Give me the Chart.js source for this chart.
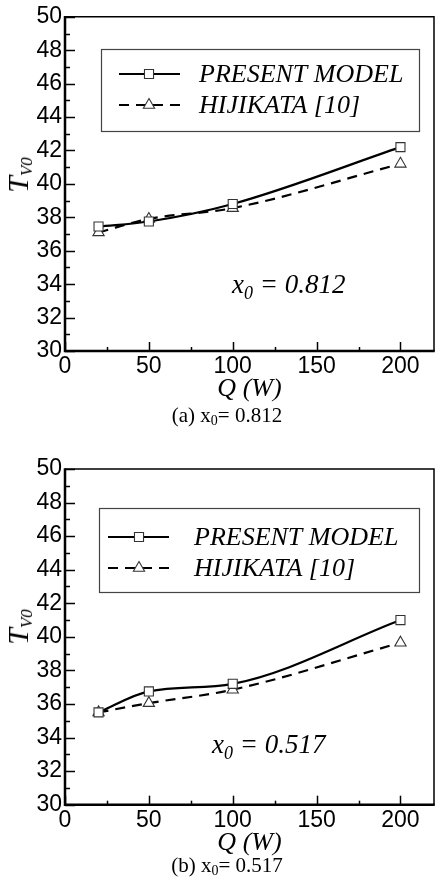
<!DOCTYPE html>
<html>
<head>
<meta charset="utf-8">
<script src="https://cdn.jsdelivr.net/npm/chart.js@4/dist/chart.umd.min.js"></script>
<style>
  html, body { margin: 0; padding: 0; background: #fff; }
  #page { position: relative; width: 446px; height: 880px; background: #fff; overflow: hidden; }
  .panel { position: absolute; left: 0; width: 446px; height: 440px; }
  .panel canvas { position: absolute; left: 0; top: 0; }
  .ytitle { position: absolute; white-space: nowrap; font-family: 'Liberation Serif', 'Times New Roman', serif; font-style: italic; font-size: 30px; color: #000; transform: translate(-50%, -50%) rotate(-90deg); line-height: 1; }
  .ytitle sub { font-size: 17px; vertical-align: -4px; }
  .annot { position: absolute; white-space: nowrap; font-family: 'Liberation Serif', 'Times New Roman', serif; font-style: italic; font-size: 27px; color: #000; line-height: 1; }
  .annot sub { font-size: 18px; vertical-align: -6px; }
  .caption { position: absolute; white-space: nowrap; font-family: 'Liberation Serif', 'Times New Roman', serif; font-size: 21px; color: #000; transform: translateX(-50%); line-height: 1; }
  .caption sub { font-size: 14px; vertical-align: -3px; }
</style>
</head>
<body>
<div id="page">
  <div class="panel" style="top:0px;"><canvas id="c1" width="446" height="440"></canvas></div>
  <div class="panel" style="top:440px;"><canvas id="c2" width="446" height="440"></canvas></div>

  <div class="ytitle" style="left:19px; top:175px;">T<sub>V0</sub></div>
  <div class="annot" style="left:232px; top:271px;">x<sub>0</sub> = 0.812</div>
  <div class="caption" style="left:227px; top:405px;">(a) x<sub>0</sub>= 0.812</div>

  <div class="ytitle" style="left:19px; top:627px;">T<sub>V0</sub></div>
  <div class="annot" style="left:212px; top:731px;">x<sub>0</sub> = 0.517</div>
  <div class="caption" style="left:227px; top:855px;">(b) x<sub>0</sub>= 0.517</div>
</div>
<script>
// ---- data ----
const Q = [20, 50, 100, 200];
const presentA  = [37.45, 37.75, 38.8, 42.2];
const hijikataA = [37.1, 37.9, 38.55, 41.2];
const presentB  = [35.5, 36.75, 37.2, 41.0];
const hijikataB = [35.5, 36.05, 36.85, 39.65];
const seriesLabels = ['PRESENT MODEL', 'HIJIKATA [10]'];
const xTicks = [0, 50, 100, 150, 200];
const yTicks = [30, 32, 34, 36, 38, 40, 42, 44, 46, 48, 50];

const frameTicks = {
  id: 'frameTicks',
  afterDatasetsDraw(chart) {
    const ctx = chart.ctx;
    const a = chart.chartArea;
    const xs = chart.scales.x, ys = chart.scales.y;
    ctx.save();
    ctx.strokeStyle = '#000';
    ctx.lineCap = 'butt';
    ctx.lineWidth = 1.5;
    for (let v = ys.min; v <= ys.max; v += 1) {
      const y = Math.round(ys.getPixelForValue(v)) + 0.5;
      const len = (v % 2 === 0) ? 10 : 5;
      ctx.beginPath(); ctx.moveTo(a.left, y); ctx.lineTo(a.left + len, y); ctx.stroke();
    }
    for (let v = 0; v <= 200; v += 25) {
      const x = Math.round(xs.getPixelForValue(v)) + 0.5;
      const len = (v % 50 === 0) ? 9 : 4;
      ctx.beginPath(); ctx.moveTo(x, a.bottom); ctx.lineTo(x, a.bottom - len); ctx.stroke();
    }
    ctx.lineWidth = 1.5;
    ctx.beginPath();
    ctx.moveTo(a.left, a.top); ctx.lineTo(a.right, a.top); ctx.lineTo(a.right, a.bottom);
    ctx.stroke();
    ctx.lineWidth = 2.5;
    ctx.beginPath();
    ctx.moveTo(a.left, a.top - 0.75); ctx.lineTo(a.left, a.bottom); ctx.lineTo(a.right + 0.75, a.bottom);
    ctx.stroke();

    const L = chart.options.plugins.frameTicks.legend;
    ctx.lineWidth = 1.2;
    ctx.strokeStyle = '#444';
    ctx.strokeRect(L.x1 + 0.5, L.y1 + 0.5, L.x2 - L.x1, L.y2 - L.y1);
    chart.data.datasets.forEach((ds, i) => {
      const y = L.rows[i];
      ctx.save();
      ctx.strokeStyle = ds.borderColor;
      ctx.lineWidth = ds.borderWidth;
      ctx.setLineDash(ds.borderDash || []);
      ctx.beginPath(); ctx.moveTo(L.sx1, y); ctx.lineTo(L.sx2, y); ctx.stroke();
      ctx.restore();
      ctx.save();
      ctx.fillStyle = ds.pointBackgroundColor;
      ctx.strokeStyle = ds.pointBorderColor;
      ctx.lineWidth = ds.pointBorderWidth;
      Chart.helpers.drawPoint(ctx, { pointStyle: ds.pointStyle, rotation: 0, radius: ds.pointRadius, borderWidth: ds.pointBorderWidth }, L.mx, y);
      ctx.restore();
      ctx.save();
      ctx.fillStyle = '#000';
      ctx.font = "italic 26px 'Liberation Serif', 'Times New Roman', serif";
      ctx.textBaseline = 'middle';
      ctx.textAlign = 'left';
      ctx.fillText(ds.label, L.tx, y + 1);
      ctx.restore();
    });
    ctx.restore();
  }
};

function makeChart(id, present, hijikata, pad, legend) {
  const tickFont = { family: "'Liberation Sans', Arial, sans-serif", size: 23 };
  return new Chart(document.getElementById(id), {
    type: 'line',
    data: {
      datasets: [
        {
          label: seriesLabels[0],
          data: Q.map((q, i) => ({ x: q, y: present[i] })),
          borderColor: '#000', borderWidth: 2.2,
          pointStyle: 'rect', pointRadius: 6.4,
          pointBackgroundColor: '#fff', pointBorderColor: '#333', pointBorderWidth: 1.1,
          tension: 0.4, cubicInterpolationMode: 'monotone', fill: false
        },
        {
          label: seriesLabels[1],
          data: Q.map((q, i) => ({ x: q, y: hijikata[i] })),
          borderColor: '#000', borderWidth: 2.2, borderDash: [10, 7],
          pointStyle: 'triangle', pointRadius: 6.5,
          pointBackgroundColor: '#fff', pointBorderColor: '#333', pointBorderWidth: 1.1,
          tension: 0.4, cubicInterpolationMode: 'monotone', fill: false
        }
      ]
    },
    options: {
      responsive: false,
      animation: false,
      devicePixelRatio: 1,
      layout: { padding: pad },
      plugins: {
        legend: { display: false },
        tooltip: { enabled: false },
        frameTicks: { legend: legend }
      },
      scales: {
        x: {
          type: 'linear', min: 0, max: 220,
          afterBuildTicks: (s) => { s.ticks = xTicks.map(v => ({ value: v })); },
          ticks: { font: tickFont, color: '#000', padding: 2, maxRotation: 0, autoSkip: false },
          grid: { display: false, drawTicks: false },
          border: { display: false },
          title: { display: true, text: 'Q (W)', color: '#000',
                   font: { family: "'Liberation Serif', 'Times New Roman', serif", style: 'italic', size: 26, lineHeight: 1 },
                   padding: { top: -6, bottom: 0 } }
        },
        y: {
          type: 'linear', min: 30, max: 50,
          afterBuildTicks: (s) => { s.ticks = yTicks.map(v => ({ value: v })); },
          afterFit: (s) => { s.width = 65; },
          ticks: { font: tickFont, color: '#000', padding: 3, autoSkip: false },
          grid: { display: false, drawTicks: false },
          border: { display: false }
        }
      }
    },
    plugins: [frameTicks]
  });
}

// x scale height = 26 - 6 + 27.6 + 2 = 49.6
makeChart('c1', presentA, hijikataA, { top: 16, right: 12, bottom: 37.4, left: 0 },
  { x1: 101, y1: 49, x2: 419, y2: 131, rows: [74, 105], sx1: 119, sx2: 180, mx: 149, tx: 199 });
makeChart('c2', presentB, hijikataB, { top: 29, right: 12, bottom: 23.7, left: 0 },
  { x1: 99, y1: 68, x2: 419, y2: 152, rows: [97, 128], sx1: 108, sx2: 169, mx: 139, tx: 194 });
</script>
</body>
</html>
